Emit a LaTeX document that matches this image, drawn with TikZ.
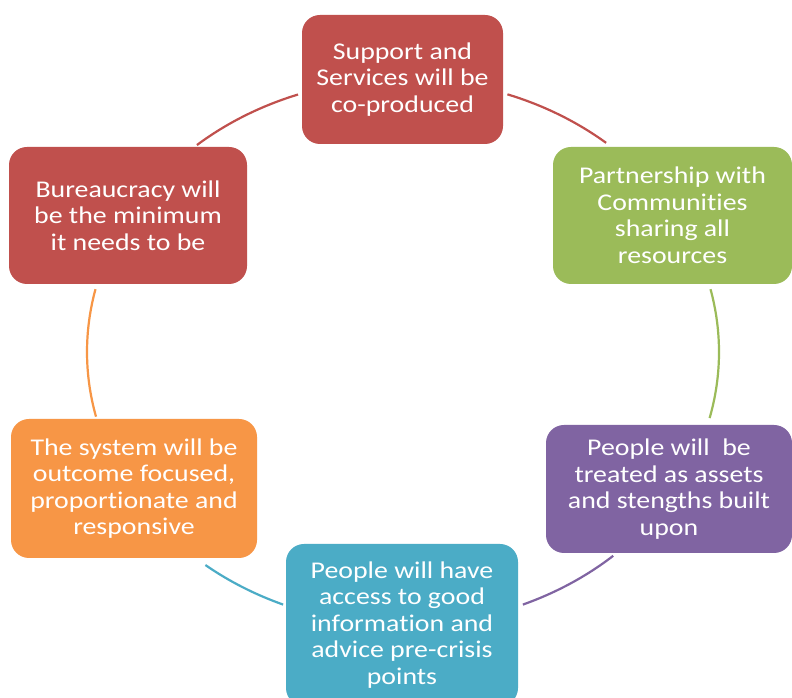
\documentclass[tikz,border=0pt]{standalone}
\usepackage{fontspec}
\setmainfont{Carlito}[FakeStretch=1.16, Ligatures={NoCommon}]
\definecolor{cred}{HTML}{C0504D}
\definecolor{cgreen}{HTML}{9BBB59}
\definecolor{cpurple}{HTML}{8064A2}
\definecolor{cteal}{HTML}{4BACC6}
\definecolor{corange}{HTML}{F79646}
\tikzset{
  cyclebox/.style={rounded corners=18pt, inner sep=0pt, align=center, text=white,
    font=\fontsize{24pt}{26.5pt}\selectfont},
  cyclearc/.style={line width=2.2pt},
}
\begin{document}
\begin{tikzpicture}[x=1pt,y=1pt]
\useasboundingbox (0,0) rectangle (792,698);
\fill[white] (0,0) rectangle (792,698);
\coordinate (O) at (403,346);
% arcs
\draw[cyclearc, cred]    (O) ++(109.4:316pt and 273pt) arc[start angle=109.4, end angle=130.7, x radius=316pt, y radius=273pt];
\draw[cyclearc, cred]    (O) ++(50:316pt and 273pt) arc[start angle=50, end angle=70.7, x radius=316pt, y radius=273pt];
\draw[cyclearc, cgreen]  (O) ++(-14:316pt and 273pt) arc[start angle=-14, end angle=13.3, x radius=316pt, y radius=273pt];
\draw[cyclearc, cpurple] (O) ++(292.3:316pt and 273pt) arc[start angle=292.3, end angle=311.7, x radius=316pt, y radius=273pt];
\draw[cyclearc, cteal]   (O) ++(231.3:316pt and 273pt) arc[start angle=231.3, end angle=247.7, x radius=316pt, y radius=273pt];
\draw[cyclearc, corange] (O) ++(166.7:316pt and 273pt) arc[start angle=166.7, end angle=193.7, x radius=316pt, y radius=273pt];
% nodes
\node[cyclebox, fill=cred, minimum width=201pt, minimum height=129pt] (top) at (402.5,618.5)
  {Support and\\Services will be\\co-produced};
\node[cyclebox, fill=cgreen, minimum width=239pt, minimum height=137pt] (green) at (672.5,482.5)
  {Partnership with\\Communities\\sharing all\\resources};
\node[cyclebox, fill=cpurple, minimum width=246pt, minimum height=128pt] (purple) at (669,209)
  {People will~ be\\treated as assets\\and stengths built\\upon};
\node[cyclebox, fill=cteal, minimum width=232pt, minimum height=162pt] (teal) at (402,73)
  {People will have\\access to good\\information and\\advice pre-crisis\\points};
\node[cyclebox, fill=corange, minimum width=246pt, minimum height=139pt] (orange) at (134,209.5)
  {The system will be\\outcome focused,\\proportionate and\\responsive};
\node[cyclebox, fill=cred, minimum width=238pt, minimum height=137pt] (bureau) at (128,482.5)
  {Bureaucracy will\\be the minimum\\it needs to be};
\end{tikzpicture}
\end{document}
